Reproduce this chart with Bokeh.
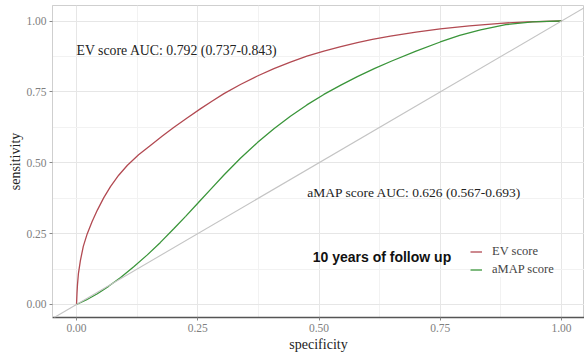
from bokeh.plotting import figure
from bokeh.models import Range1d, Slope, Label, Legend, LegendItem, FixedTicker, PrintfTickFormatter
from bokeh.embed import file_html
from bokeh.resources import INLINE

# ROC curve data (x axis as drawn, labelled "specificity")
ev_x = [0, 0.001, 0.002, 0.004, 0.008, 0.014, 0.022, 0.032, 0.043, 0.056, 0.070, 0.087,
        0.105, 0.128, 0.153, 0.177, 0.201, 0.228, 0.256, 0.28, 0.304, 0.338, 0.373,
        0.407, 0.441, 0.475, 0.51, 0.545, 0.579, 0.61, 0.647, 0.70, 0.75, 0.81, 0.874,
        0.93, 1.0]
ev_y = [0, 0.04, 0.07, 0.11, 0.155, 0.205, 0.249, 0.292, 0.333, 0.376, 0.416, 0.456,
        0.491, 0.528, 0.562, 0.594, 0.625, 0.658, 0.691, 0.718, 0.744, 0.776, 0.806,
        0.832, 0.855, 0.876, 0.894, 0.91, 0.924, 0.935, 0.947, 0.961, 0.972, 0.983, 0.992,
        0.997, 1.0]

amap_x = [0, 0.02, 0.043, 0.066, 0.091, 0.118, 0.146, 0.173, 0.201, 0.225, 0.25, 0.277,
          0.304, 0.338, 0.373, 0.407, 0.441, 0.475, 0.51, 0.545, 0.579, 0.615, 0.65,
          0.70, 0.75, 0.79, 0.833, 0.885, 0.94, 0.97, 1.0]
amap_y = [0, 0.016, 0.038, 0.064, 0.095, 0.133, 0.175, 0.219, 0.268, 0.311, 0.357, 0.407,
          0.457, 0.516, 0.571, 0.62, 0.664, 0.704, 0.741, 0.774, 0.804, 0.833, 0.859,
          0.894, 0.926, 0.949, 0.969, 0.987, 0.997, 0.999, 1.0]

tick_values = [0.0, 0.25, 0.5, 0.75, 1.0]
minor_values = [0.125, 0.375, 0.625, 0.875]

series_names = ["EV score", "aMAP score"]
ev_label = "EV score AUC: 0.792 (0.737-0.843)"
amap_label = "aMAP score AUC: 0.626 (0.567-0.693)"
legend_title = "10 years of follow up"

SERIF = "Liberation Serif"
RED = "#B24A52"
GREEN = "#3A953A"

p = figure(width=584, height=356, output_backend="svg", toolbar_location=None,
           x_range=Range1d(-0.0495, 1.0474), y_range=Range1d(-0.0459, 1.0547),
           min_border_left=52, min_border_right=0, min_border_top=5, min_border_bottom=39)

p.background_fill_color = "white"
p.border_fill_color = "white"
p.outline_line_color = "#CFCFCF"
p.outline_line_width = 1

ticker = FixedTicker(ticks=tick_values, minor_ticks=minor_values)
for ax in (p.xaxis[0], p.yaxis[0]):
    ax.ticker = ticker
    ax.formatter = PrintfTickFormatter(format="%.2f")
    ax.major_label_text_font = SERIF
    ax.major_label_text_font_size = "11.5px"
    ax.major_label_text_color = "#808080"
    ax.major_tick_in = 0
    ax.major_tick_out = 3
    ax.major_tick_line_color = "#888888"
    ax.minor_tick_line_color = None
    ax.major_label_standoff = 2
    ax.axis_label_text_font = SERIF
    ax.axis_label_text_font_size = "14px"
    ax.axis_label_text_font_style = "normal"
    ax.axis_label_text_color = "#222222"

p.xaxis.axis_label = "specificity"
p.yaxis.axis_label = "sensitivity"
p.xaxis.axis_label_standoff = 2
p.yaxis.axis_label_standoff = 0
p.xaxis.axis_line_color = "#555555"
p.xaxis.axis_line_width = 1.5
p.yaxis.axis_line_color = "#CFCFCF"
p.yaxis.axis_line_width = 1

for g in (p.xgrid[0], p.ygrid[0]):
    g.grid_line_color = "#E6E6E6"
    g.grid_line_width = 1
    g.minor_grid_line_color = "#F2F2F2"
    g.minor_grid_line_width = 1

# diagonal reference line
p.add_layout(Slope(gradient=1, y_intercept=0, line_color="#C4C4C4", line_width=1.1))

r_ev = p.line(ev_x, ev_y, line_color=RED, line_width=1.3)
r_amap = p.line(amap_x, amap_y, line_color=GREEN, line_width=1.3)

p.add_layout(Label(x=0.0, y=0.895, text=ev_label, text_font=SERIF, text_font_size="13.8px",
                   text_color="#222222", text_align="left", text_baseline="middle"))
p.add_layout(Label(x=0.476, y=0.396, text=amap_label, text_font=SERIF, text_font_size="13.5px",
                   text_color="#222222", text_align="left", text_baseline="middle"))
p.add_layout(Label(x=0.487, y=0.166, text=legend_title, text_font="Liberation Sans",
                   text_font_size="14px", text_font_style="bold", text_color="#111111",
                   text_align="left", text_baseline="middle"))

legend = Legend(items=[LegendItem(label=series_names[0], renderers=[r_ev]),
                       LegendItem(label=series_names[1], renderers=[r_amap])],
                location=(418, 40), padding=0, margin=0, spacing=3,
                glyph_width=12, glyph_height=15, label_height=15, label_standoff=10,
                label_text_font=SERIF, label_text_font_size="12.5px", label_text_color="#444444",
                background_fill_color="white", background_fill_alpha=1.0,
                border_line_alpha=0)
p.add_layout(legend)

open("out.html", "w").write(file_html(p, INLINE))
